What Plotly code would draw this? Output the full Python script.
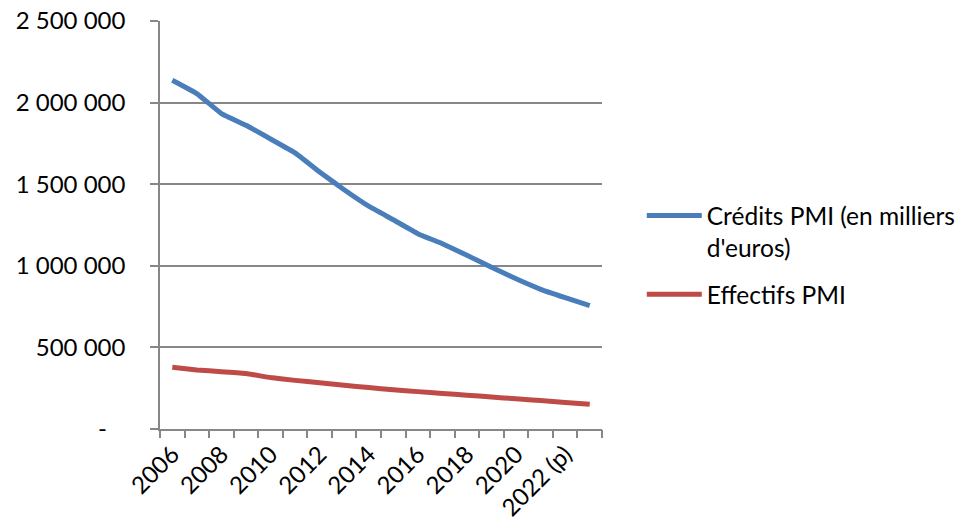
import plotly.graph_objects as go

years = ["2006", "2007", "2008", "2009", "2010", "2011", "2012", "2013", "2014",
         "2015", "2016", "2017", "2018", "2019", "2020", "2021", "2022 (p)", "2023 (p)"]
credits_pmi = [2137000, 2055000, 1933000, 1861000, 1777000, 1692000, 1575000, 1466000,
               1365000, 1282000, 1197000, 1135000, 1064000, 991000, 920000, 856000,
               805000, 756000]
effectifs_pmi = [378000, 362000, 351000, 340000, 315000, 298000, 283000, 268000, 254000,
                 240000, 229000, 218000, 207000, 196000, 185000, 174000, 163000, 151000]
y_ticks = [0, 500000, 1000000, 1500000, 2000000, 2500000]

y_text = [("-" + "\u00a0" * 3) if v == 0 else f"{v:,}".replace(",", " ") for v in y_ticks]
idx = list(range(len(years)))

FONT = "Lato, 'Open Sans', sans-serif"
GRID = "#878787"

fig = go.Figure()
fig.add_trace(go.Scatter(x=idx, y=credits_pmi, mode="lines",
                         name="Crédits PMI (en milliers<br>d'euros)", legendgroup="a",
                         line=dict(color="#4A7EBB", width=5, shape="spline", smoothing=0.3)))
fig.add_trace(go.Scatter(x=idx, y=effectifs_pmi, mode="lines",
                         name="Effectifs PMI", legendgroup="b",
                         line=dict(color="#BE4B48", width=5, shape="spline", smoothing=0.3)))
# invisible trace on second x axis for boundary tick marks
fig.add_trace(go.Scatter(x=[idx[0]], y=[None], xaxis="x2", showlegend=False,
                         hoverinfo="skip"))

fig.update_layout(
    width=962, height=527,
    margin=dict(l=160, r=360, t=21, b=98, autoexpand=False),
    paper_bgcolor="white", plot_bgcolor="white",
    font=dict(family=FONT, size=24, color="black"),
    showlegend=True,
    legend=dict(x=1.09, xanchor="left", y=0.578, yanchor="top",
                valign="top", itemwidth=55, tracegroupgap=12,
                font=dict(size=24.5), bgcolor="rgba(0,0,0,0)"),
    xaxis=dict(range=[-0.5, len(years) - 0.5], tickmode="array",
               tickvals=idx[::2], ticktext=years[::2], tickangle=-45,
               ticks="", showgrid=False, showline=True, linecolor=GRID,
               linewidth=1.5, zeroline=False, automargin=False,
               tickfont=dict(size=24)),
    xaxis2=dict(range=[-0.5, len(years) - 0.5], overlaying="x", anchor="y",
                side="bottom", tickmode="array",
                tickvals=[i - 0.5 for i in range(len(years) + 1)],
                ticks="outside", ticklen=8, tickwidth=1.5, tickcolor=GRID,
                showticklabels=False, showgrid=False, showline=False,
                zeroline=False, automargin=False),
    yaxis=dict(range=[0, 2500000], tickmode="array", tickvals=y_ticks,
               ticktext=y_text, ticks="outside", ticklen=8, tickwidth=1.5,
               tickcolor=GRID, showgrid=True, gridcolor=GRID, gridwidth=1.5,
               showline=True, linecolor=GRID, linewidth=1.5, zeroline=False,
               automargin=False, ticklabelstandoff=20, tickfont=dict(size=24)),
)

fig.write_html("out.html")
